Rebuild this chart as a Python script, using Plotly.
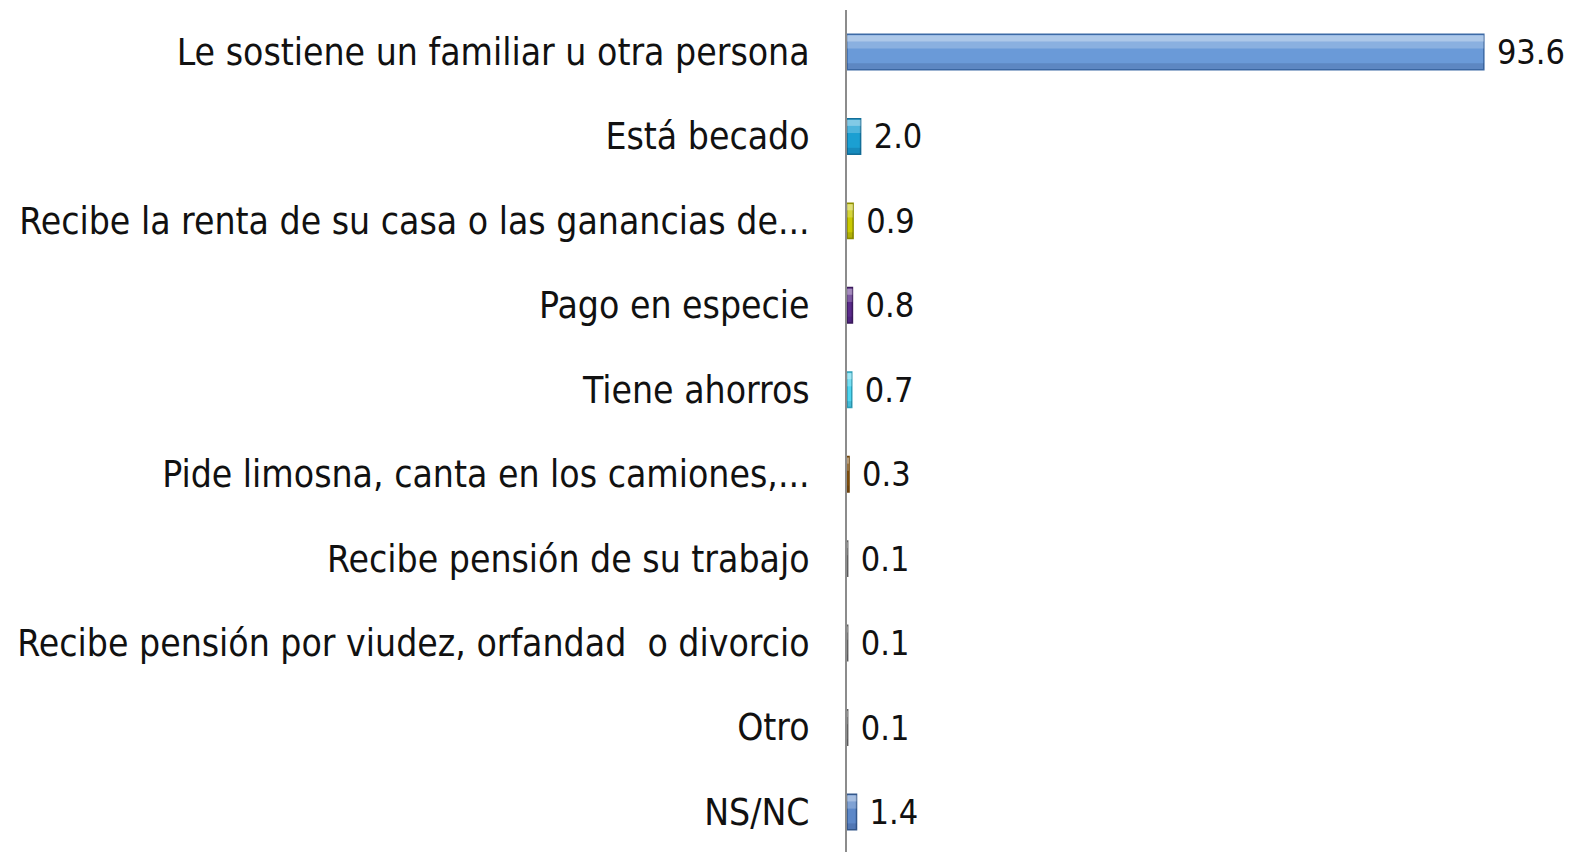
import plotly.graph_objects as go

categories = [
    "Le sostiene un familiar u otra persona",
    "Está becado",
    "Recibe la renta de su casa o las ganancias de...",
    "Pago en especie",
    "Tiene ahorros",
    "Pide limosna, canta en los camiones,...",
    "Recibe pensión de su trabajo",
    "Recibe pensión por viudez, orfandad  o divorcio",
    "Otro",
    "NS/NC",
]
values = [93.6, 2.0, 0.9, 0.8, 0.7, 0.3, 0.1, 0.1, 0.1, 1.4]
labels = ["93.6", "2.0", "0.9", "0.8", "0.7", "0.3", "0.1", "0.1", "0.1", "1.4"]
colors = ["#6a9ad8", "#1b9fd2", "#c9c900", "#5a2a8a", "#4fd6f0", "#a0620c",
          "#8a8a8a", "#8a8a8a", "#8a8a8a", "#5d88c8"]
edges = ["#3d6aa6", "#136f99", "#8d8d00", "#3b1a5c", "#2fa0b8", "#6e430a",
         "#606060", "#606060", "#606060", "#34588c"]

FONT = "DejaVu Sans Condensed, DejaVu Sans, sans-serif"
FS = 37
VFS = 34

fig = go.Figure()
fig.add_trace(go.Bar(
    y=categories, x=values, orientation="h",
    marker=dict(color=colors, line=dict(color=edges, width=1.5)),
    text=labels, texttemplate="\u2004%{text}", textposition="outside",
    cliponaxis=False, constraintext="none",
    textfont=dict(size=VFS, color="#111111", family=FONT),
    width=0.42, hoverinfo="x+y",
))
# glossy highlight on the upper part of each bar
fig.add_trace(go.Bar(
    y=categories, x=values, orientation="h",
    marker=dict(color="rgba(255,255,255,0.22)", line=dict(width=0)),
    width=0.16, offset=-0.2, hoverinfo="skip",
))
fig.add_trace(go.Bar(
    y=categories, x=values, orientation="h",
    marker=dict(color="rgba(255,255,255,0.3)", line=dict(width=0)),
    width=0.07, offset=-0.195, hoverinfo="skip",
))
# darker lower edge
fig.add_trace(go.Bar(
    y=categories, x=values, orientation="h",
    marker=dict(color="rgba(0,0,40,0.12)", line=dict(width=0)),
    width=0.07, offset=0.135, hoverinfo="skip",
))

fig.update_layout(
    width=1567, height=844,
    margin=dict(l=839, r=0, t=2, b=0, autoexpand=False),
    paper_bgcolor="white", plot_bgcolor="white",
    showlegend=False, barmode="overlay",
    font=dict(family=FONT, size=FS, color="#111111"),
)
fig.update_xaxes(range=[0, 107.0], visible=False, showgrid=False, zeroline=False)
fig.update_yaxes(
    range=[9.474, -0.497], showgrid=False, zeroline=False, automargin=False,
    showline=True, linecolor="#8c8c8c", linewidth=2,
    ticks="", ticklabelstandoff=28,
    tickfont=dict(size=FS, color="#111111", family=FONT),
)

fig.write_html("out.html")
